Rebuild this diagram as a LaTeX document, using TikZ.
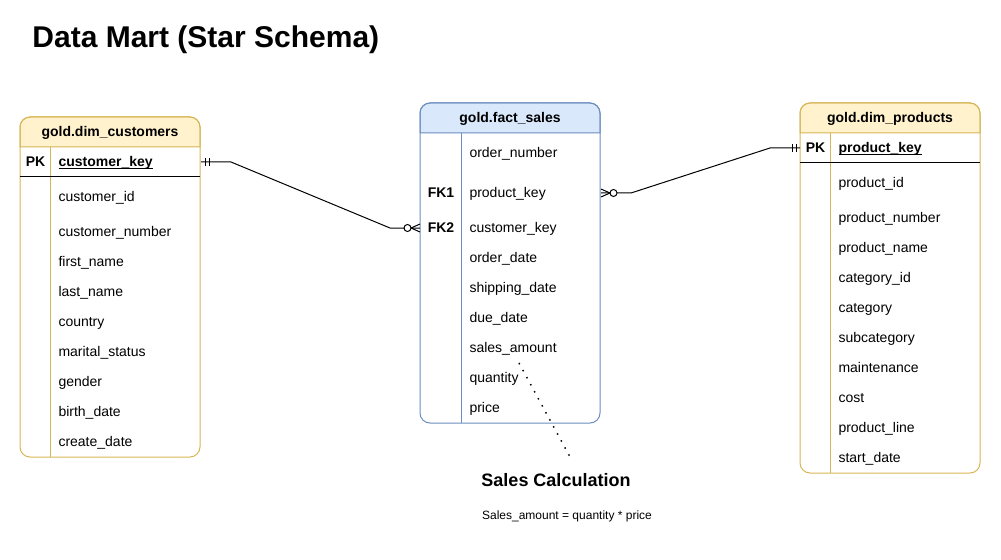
\documentclass[tikz,border=0pt]{standalone}
\usepackage{fontspec}
\setmainfont{Liberation Sans}
\usetikzlibrary{calc}

\definecolor{dimfill}{HTML}{FFF2CC}
\definecolor{dimline}{HTML}{D6B656}
\definecolor{factfill}{HTML}{DAE8FC}
\definecolor{factline}{HTML}{6C8EBF}

\newcommand{\fieldfont}{\fontsize{10.5}{12}\selectfont}
\newcommand{\keyname}[1]{\setbox0\hbox{\textbf{#1}}\rlap{\rule[-1.6pt]{\wd0}{0.7pt}}\box0}

\tikzset{
  titletext/.style={anchor=west, inner sep=0pt, font=\fontsize{22.5}{26}\selectfont\bfseries},
  headtext/.style={inner sep=0pt, text height=9pt, text depth=2.2pt, font=\fieldfont\bfseries},
  keycell/.style={anchor=west, inner sep=0pt, text height=9pt, text depth=2.2pt, minimum width=#1, font=\fieldfont\bfseries},
  fieldrow/.style={anchor=west, inner xsep=6pt, inner ysep=0pt, text height=9pt, text depth=2.2pt, text width=#1, align=left, font=\fieldfont},
  mandone/.pic={\draw (-4,-4) -- (-4,4) (-8,-4) -- (-8,4);},
  zeromany/.pic={\draw (0,-4) -- (-9,0) -- (0,4); \draw[fill=white] (-12.5,0) circle[radius=3.5];},
  note/.style={line width=1.1pt, dash pattern=on 1.1pt off 4.9pt},
}

\begin{document}
\begin{tikzpicture}[x=0.75pt, y=-0.75pt, line width=0.75pt]
  \useasboundingbox (0,0) rectangle (1001,560);
  \node[titletext] (title) at (32,40) {Data Mart (Star Schema)};

  % gold.dim_customers
  \filldraw[fill=dimfill, draw=dimline] (20,147) [rounded corners=7.5pt] -- (20,117) -- (200,117) [sharp corners] -- (200,147) -- cycle;
  \draw[dimline, rounded corners=7.5pt] (20,117) rectangle (200,457);
  \draw[dimline] (50,147) -- (50,457);
  \draw (20,177) -- (200,177);
  \node[headtext] (custhead) at (110,132) {gold.dim\_customers};
  \node[keycell=22.5pt] (custpk) at (20,162) {PK};
  \node[fieldrow=100.5pt] (custkey) at (50,162) {\keyname{customer\_key}};
  \foreach \y/\name in {197/customer\_id, 232/customer\_number, 262/first\_name,
      292/last\_name, 322/country, 352/marital\_status, 382/gender,
      412/birth\_date, 442/create\_date}
    \node[fieldrow=100.5pt] (cust\y) at (50,\y) {\name};

  % gold.fact_sales
  \filldraw[fill=factfill, draw=factline] (420,133) [rounded corners=7.5pt] -- (420,103) -- (600,103) [sharp corners] -- (600,133) -- cycle;
  \draw[factline, rounded corners=7.5pt] (420,103) rectangle (600,423);
  \draw[factline] (461,133) -- (461,423);
  \node[headtext] (facthead) at (510,118) {gold.fact\_sales};
  \node[keycell=30.75pt] (fk1) at (420,193) {FK1};
  \node[keycell=30.75pt] (fk2) at (420,228) {FK2};
  \node[fieldrow=92.25pt] (factnum) at (461,153) {order\_number};
  \node[fieldrow=92.25pt] (factprod) at (461,193) {product\_key};
  \node[fieldrow=92.25pt] (factcust) at (461,228) {customer\_key};
  \foreach \y/\name in {258/order\_date, 288/shipping\_date, 318/due\_date,
      348/sales\_amount, 378/quantity, 408/price}
    \node[fieldrow=92.25pt] (fact\y) at (461,\y) {\name};

  % gold.dim_products
  \filldraw[fill=dimfill, draw=dimline] (800,133) [rounded corners=7.5pt] -- (800,103) -- (980,103) [sharp corners] -- (980,133) -- cycle;
  \draw[dimline, rounded corners=7.5pt] (800,103) rectangle (980,473);
  \draw[dimline] (830,133) -- (830,473);
  \draw (800,163) -- (980,163);
  \node[headtext] (prodhead) at (890,118) {gold.dim\_products};
  \node[keycell=22.5pt] (prodpk) at (800,148) {PK};
  \node[fieldrow=100.5pt] (prodkey) at (830,148) {\keyname{product\_key}};
  \foreach \y/\name in {183/product\_id, 218/product\_number, 248/product\_name,
      278/category\_id, 308/category, 338/subcategory, 368/maintenance,
      398/cost, 428/product\_line, 458/start\_date}
    \node[fieldrow=100.5pt] (prod\y) at (830,\y) {\name};

  % relationships
  \draw (custkey.east) -- ++(30,0) -- ($(fk2.west)+(-30,0)$) -- (fk2.west);
  \pic[xscale=-1] at (custkey.east) {mandone};
  \pic at (fk2.west) {zeromany};
  \draw (factprod.east) -- ++(30,0) -- ($(prodpk.west)+(-30,0)$) -- (prodpk.west);
  \pic[xscale=-1] at (factprod.east) {zeromany};
  \pic at (prodpk.west) {mandone};

  % calculation note
  \node[font=\fontsize{13.5}{16}\selectfont\bfseries, inner sep=0pt] (calc) at (556,480) {Sales Calculation};
  \node[font=\fontsize{9}{11}\selectfont, inner sep=0pt] (formula) at (567,516) {Sales\_amount = quantity * price};
  \coordinate (amtdot) at (519,363);
  \coordinate (calcdot) at (569.5,456);
  \draw[note] (amtdot) -- (calcdot);
\end{tikzpicture}
\end{document}
